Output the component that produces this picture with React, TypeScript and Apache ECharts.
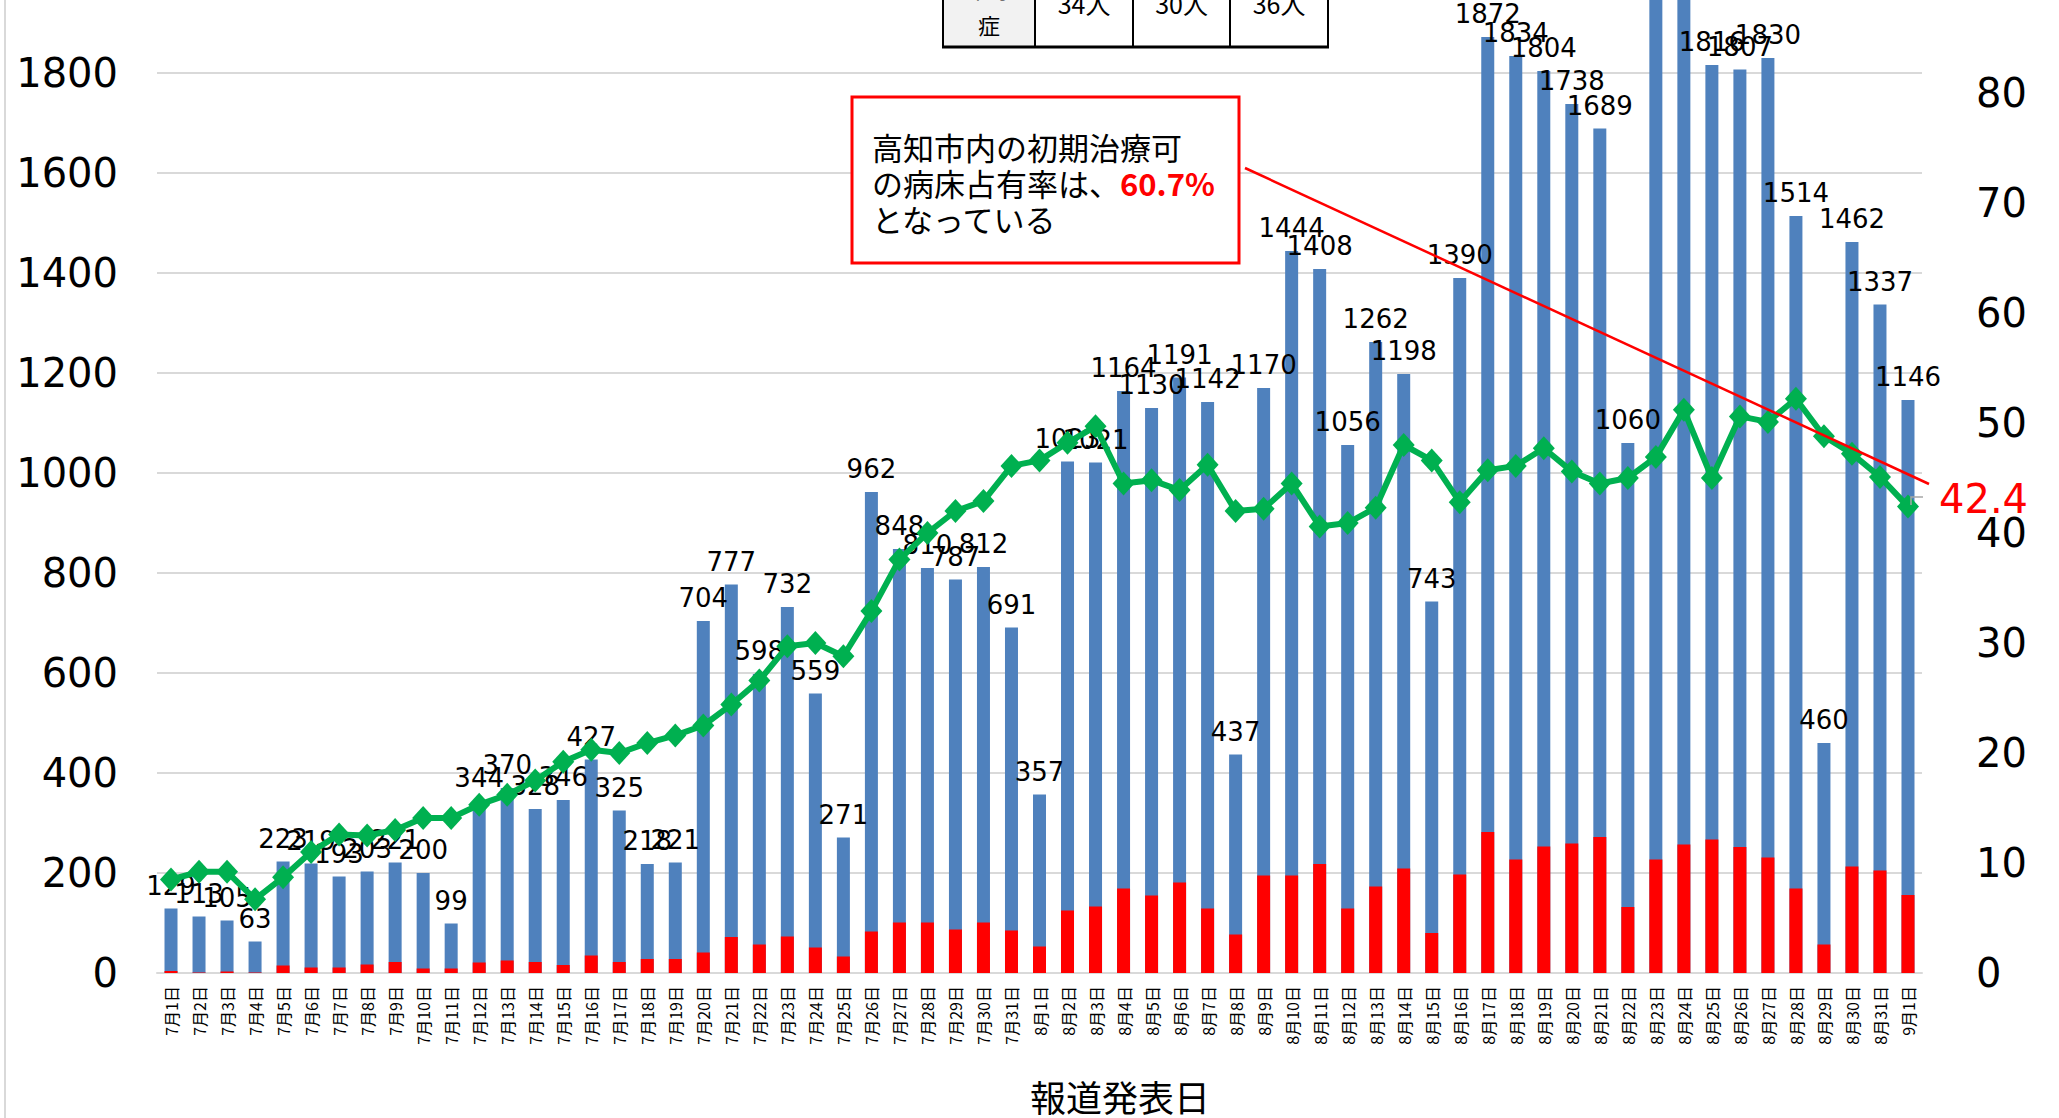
import React, { useEffect, useRef } from "react";
import * as echarts from "echarts";

const categories = [
  "7月1日","7月2日","7月3日","7月4日","7月5日","7月6日","7月7日","7月8日","7月9日","7月10日",
  "7月11日","7月12日","7月13日","7月14日","7月15日","7月16日","7月17日","7月18日","7月19日","7月20日",
  "7月21日","7月22日","7月23日","7月24日","7月25日","7月26日","7月27日","7月28日","7月29日","7月30日","7月31日",
  "8月1日","8月2日","8月3日","8月4日","8月5日","8月6日","8月7日","8月8日","8月9日","8月10日",
  "8月11日","8月12日","8月13日","8月14日","8月15日","8月16日","8月17日","8月18日","8月19日","8月20日",
  "8月21日","8月22日","8月23日","8月24日","8月25日","8月26日","8月27日","8月28日","8月29日","8月30日","8月31日",
  "9月1日",
];

const totalValues = [
  129,113,105,63,223,219,193,203,221,200,99,344,370,328,346,427,325,218,221,704,777,598,732,559,271,962,848,810,787,812,691,
  357,1023,1021,1164,1130,1191,1142,437,1170,1444,1408,1056,1262,1198,743,1390,1872,1834,1804,1738,1689,1060,1990,2035,1816,1807,1830,1514,460,1462,1337,
  1146,
];

const redValues = [
  4,1,3,1,15,11,11,17,22,9,9,21,25,22,16,35,22,28,28,41,72,57,73,51,33,83,101,101,87,101,85,
  53,125,133,169,155,181,129,77,195,195,218,129,173,209,80,197,282,227,253,259,272,132,227,257,267,252,231,169,57,213,205,
  156,
];

const rateValues = [
  8.5,9.2,9.2,6.7,8.7,11.0,12.6,12.5,13.0,14.1,14.1,15.3,16.2,17.5,19.2,20.3,20.0,20.9,21.6,22.5,24.4,26.6,29.7,30.0,28.8,32.9,37.6,40.0,42.0,42.9,46.1,
  46.6,48.2,49.7,44.5,44.8,43.9,46.2,42.0,42.2,44.5,40.6,40.9,42.3,48.0,46.6,42.8,45.7,46.1,47.7,45.6,44.5,45.0,46.9,51.2,45.0,50.6,50.1,52.2,48.8,47.2,45.1,
  42.4,
];

const tableHeader = ["中等", "症"];
const tableCells = ["34人", "30人", "36人"];
const noteLines = ["高知市内の初期治療可", "の病床占有率は、", "60.7%", "となっている"];
const xAxisTitle = "報道発表日";

const OFF = 200;
const W = 2059;
const H = 1118 + OFF;
const NUM_FONT = "DejaVu Sans";
const JP_FONT = "Noto Sans CJK JP";

export default function App() {
  const ref = useRef<HTMLDivElement>(null);
  useEffect(() => {
    if (!ref.current) return;
    const chart = echarts.init(ref.current, undefined, { renderer: "svg" });
    const last = rateValues.length - 1;
    const rateData = rateValues.map((v, i) =>
      i === last
        ? {
            value: v,
            label: {
              show: true,
              position: "right",
              distance: 20,
              offset: [0, -8],
              color: "#ff0000",
              fontSize: 40,
              fontFamily: NUM_FONT,
            },
          }
        : v
    );
    const tableXs = [943, 1035, 1133, 1230, 1328];
    const graphic: any[] = [
      { type: "line", shape: { x1: 5, y1: 0, x2: 5, y2: H }, style: { stroke: "#d9d9d9", lineWidth: 2 }, z: 1 },
      // table
      { type: "rect", shape: { x: 943, y: -60 + OFF, width: 92, height: 107 }, style: { fill: "#f2f2f2" }, z: 10 },
      ...tableXs.map((x) => ({
        type: "line",
        shape: { x1: x, y1: -60 + OFF, x2: x, y2: 47 + OFF },
        style: { stroke: "#000", lineWidth: 2 },
        z: 11,
      })),
      { type: "line", shape: { x1: 942, y1: 47 + OFF, x2: 1329, y2: 47 + OFF }, style: { stroke: "#000", lineWidth: 3 }, z: 11 },
      {
        type: "text",
        x: 989,
        y: -12 + OFF,
        style: { text: tableHeader[0], fontSize: 22, fontFamily: JP_FONT, fill: "#000", align: "center", verticalAlign: "middle" },
        z: 12,
      },
      {
        type: "text",
        x: 989,
        y: 24 + OFF,
        style: { text: tableHeader[1], fontSize: 22, fontFamily: JP_FONT, fill: "#000", align: "center", verticalAlign: "middle" },
        z: 12,
      },
      ...tableCells.map((t, i) => ({
        type: "text",
        x: (tableXs[i + 1] + tableXs[i + 2]) / 2,
        y: 3 + OFF,
        style: { text: t, fontSize: 25, fontFamily: JP_FONT, fill: "#000", align: "center", verticalAlign: "middle" },
        z: 12,
      })),
      // note box
      {
        type: "rect",
        shape: { x: 852, y: 97 + OFF, width: 387, height: 166 },
        style: { fill: "#fff", stroke: "#ff0000", lineWidth: 3 },
        z: 20,
      },
      {
        type: "text",
        x: 872,
        y: 146 + OFF,
        style: { text: noteLines[0], fontSize: 31, fontFamily: JP_FONT, fill: "#000", verticalAlign: "middle" },
        z: 21,
      },
      {
        type: "text",
        x: 872,
        y: 182 + OFF,
        style: {
          text: "{a|" + noteLines[1] + "}{b|" + noteLines[2] + "}",
          verticalAlign: "middle",
          rich: {
            a: { fontSize: 31, fontFamily: JP_FONT, fill: "#000" },
            b: { fontSize: 31, fontFamily: JP_FONT, fill: "#ff0000", fontWeight: "bold" },
          },
        },
        z: 21,
      },
      {
        type: "text",
        x: 872,
        y: 218 + OFF,
        style: { text: noteLines[3], fontSize: 31, fontFamily: JP_FONT, fill: "#000", verticalAlign: "middle" },
        z: 21,
      },
      // annotation line
      {
        type: "line",
        shape: { x1: 1245, y1: 168 + OFF, x2: 1929, y2: 484 + OFF },
        style: { stroke: "#ff0000", lineWidth: 2.5 },
        z: 30,
      },
      {
        type: "polyline",
        shape: { points: [[1911, 505 + OFF], [1911, 497 + OFF], [1923, 497 + OFF]] },
        style: { stroke: "#a6a6a6", lineWidth: 1.5, fill: "none" },
        z: 30,
      },
      // x axis title
      {
        type: "text",
        x: 1120,
        y: 1096 + OFF,
        style: { text: xAxisTitle, fontSize: 36, fontFamily: JP_FONT, fill: "#000", align: "center", verticalAlign: "middle" },
        z: 12,
      },
    ];

    chart.setOption({
      animation: false,
      backgroundColor: "#fff",
      grid: { left: 157, right: W - 1922, top: 73, bottom: H - 1173, containLabel: false },
      xAxis: {
        type: "category",
        data: categories,
        axisLine: { lineStyle: { color: "#d9d9d9", width: 2 } },
        axisTick: { show: false },
        axisLabel: { rotate: 90, interval: 0, fontSize: 16, fontFamily: JP_FONT, color: "#000", margin: 13 },
      },
      yAxis: [
        {
          type: "value",
          min: 0,
          max: 2200,
          interval: 200,
          axisLine: { show: false },
          axisTick: { show: false },
          splitLine: { lineStyle: { color: "#d9d9d9", width: 2 } },
          axisLabel: {
            fontSize: 40,
            fontFamily: NUM_FONT,
            color: "#000",
            margin: 39,
            formatter: (v: number) => String(v),
          },
        },
        {
          type: "value",
          min: 0,
          max: 100,
          interval: 10,
          position: "right",
          axisLine: { show: false },
          axisTick: { show: false },
          splitLine: { show: false },
          axisLabel: {
            fontSize: 40,
            fontFamily: NUM_FONT,
            color: "#000",
            margin: 54,
            align: "left",
            formatter: (v: number) => String(v),
          },
        },
      ],
      graphic,
      series: [
        {
          type: "bar",
          data: totalValues,
          barWidth: 13,
          barGap: "-100%",
          itemStyle: { color: "#4f81bd" },
          label: { show: true, position: "top", distance: 10, fontSize: 26, fontFamily: NUM_FONT, color: "#000" },
          z: 2,
        },
        {
          type: "bar",
          data: redValues,
          barWidth: 13,
          barGap: "-100%",
          itemStyle: { color: "#ff0000" },
          z: 3,
        },
        {
          type: "line",
          yAxisIndex: 1,
          data: rateData,
          symbol: "diamond",
          symbolSize: [22, 24],
          lineStyle: { color: "#00b050", width: 6 },
          itemStyle: { color: "#00b050" },
          label: { show: false },
          z: 5,
        },
      ],
    });
    return () => chart.dispose();
  }, []);
  return <div ref={ref} style={{ position: "absolute", left: 0, top: -OFF, width: W, height: H }} />;
}
